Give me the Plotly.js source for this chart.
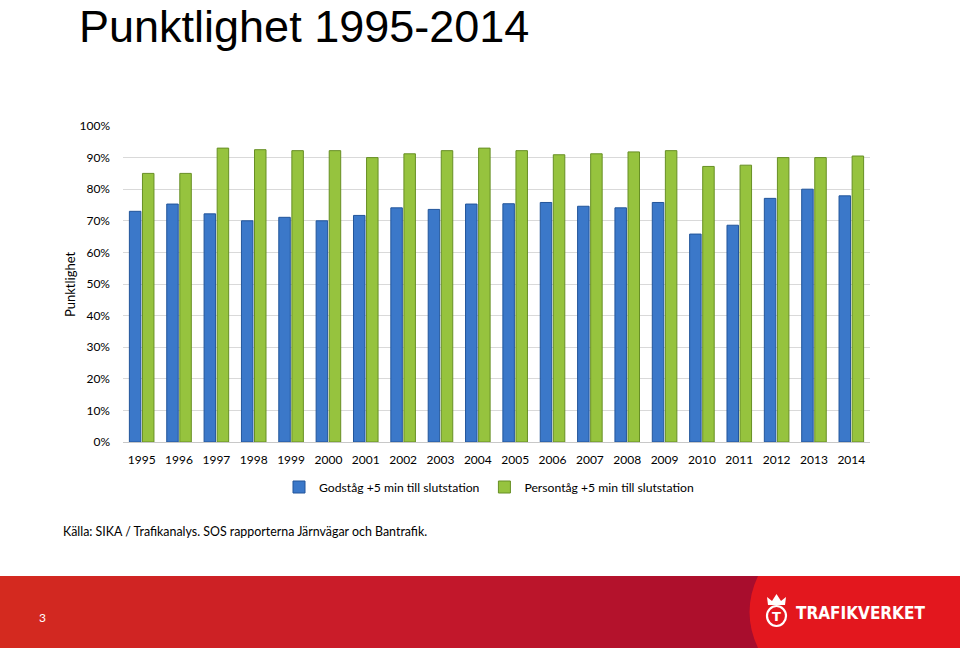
<!DOCTYPE html>
<html>
<head>
<meta charset="utf-8">
<script src="https://cdn.plot.ly/plotly-3.0.1.min.js"></script>
<style>
  html, body { margin: 0; padding: 0; background: #ffffff; }
  #chart { width: 960px; height: 648px; }
</style>
</head>
<body>
<div id="chart"></div>
<script>
// ---- Data ----
const years = ["1995","1996","1997","1998","1999","2000","2001","2002","2003","2004",
               "2005","2006","2007","2008","2009","2010","2011","2012","2013","2014"];
const godstag = [73.0, 75.3, 72.2, 70.0, 71.1, 70.0, 71.7, 74.1, 73.6, 75.3,
                 75.4, 75.8, 74.6, 74.1, 75.8, 65.8, 68.6, 77.1, 80.0, 77.9];
const persontag = [85.0, 85.0, 93.0, 92.5, 92.2, 92.2, 90.0, 91.2, 92.2, 93.0,
                   92.2, 90.9, 91.2, 91.8, 92.2, 87.2, 87.6, 90.0, 90.0, 90.5];
const seriesNames = ["Godståg +5 min till slutstation", "Persontåg +5 min till slutstation"];
const yTickVals = [0,10,20,30,40,50,60,70,80,90,100];
const yTickText = ["0%","10%","20%","30%","40%","50%","60%","70%","80%","90%","100%"];

const W = 960, H = 648;
const px = x => x / W;
const py = y => 1 - y / H;

const bodyFont = "Lato, 'Open Sans', 'DejaVu Sans', sans-serif";

const traces = [
  {
    type: "bar", name: seriesNames[0], x: years, y: godstag,
    marker: { color: "#3b78c9", line: { color: "#22559a", width: 1 } },
    hoverinfo: "x+y+name"
  },
  {
    type: "bar", name: seriesNames[1], x: years, y: persontag,
    marker: { color: "#96c33e", line: { color: "#678f24", width: 1 } },
    hoverinfo: "x+y+name"
  }
];

// ---- Footer decoration ----
const shapes = [];
function lerp(a, b, t) { return Math.round(a + (b - a) * t); }
function mix(c1, c2, t) {
  return "rgb(" + lerp(c1[0], c2[0], t) + "," + lerp(c1[1], c2[1], t) + "," + lerp(c1[2], c2[2], t) + ")";
}
const cA = [212, 42, 31], cB = [200, 26, 42], cC = [166, 12, 45];
const stripW = 10, footTop = 576, footRight = 770;
for (let x0 = 0; x0 < footRight; x0 += stripW) {
  const t = (x0 + stripW / 2) / footRight;
  const col = t < 0.5 ? mix(cA, cB, t / 0.5) : mix(cB, cC, (t - 0.5) / 0.5);
  shapes.push({ type: "rect", xref: "paper", yref: "paper",
    x0: px(x0), x1: px(Math.min(x0 + stripW + 1, footRight)), y0: 0, y1: py(footTop),
    fillcolor: col, line: { width: 0 }, layer: "below" });
}
// bright red right panel with curved left edge
shapes.push({ type: "path", xref: "paper", yref: "paper",
  path: "M " + px(758) + "," + py(footTop) + " Q " + px(741) + "," + py(612) + " " + px(758) + "," + py(648) +
        " L 1," + py(648) + " L 1," + py(footTop) + " Z",
  fillcolor: "#e3171e", line: { width: 0 }, layer: "below" });
// logo ring
shapes.push({ type: "circle", xref: "paper", yref: "paper",
  x0: px(767), x1: px(786), y0: py(626), y1: py(606),
  line: { color: "#ffffff", width: 2.2 }, fillcolor: "rgba(0,0,0,0)" });
// logo crown
shapes.push({ type: "path", xref: "paper", yref: "paper",
  path: "M " + px(768) + "," + py(605) + " L " + px(767) + "," + py(597) + " L " + px(772) + "," + py(601) +
        " L " + px(776.5) + "," + py(594) + " L " + px(781) + "," + py(601) + " L " + px(786) + "," + py(597) +
        " L " + px(785) + "," + py(605) + " Z",
  fillcolor: "#ffffff", line: { width: 0 } });

const annotations = [
  { text: "Punktlighet", textangle: -90, xref: "paper", yref: "paper",
    x: px(70), y: py(284), showarrow: false, xanchor: "center", yanchor: "middle",
    font: { family: bodyFont, size: 13, color: "#000000" } },
  { text: "Källa: SIKA / Trafikanalys. SOS rapporterna Järnvägar och Bantrafik.",
    xref: "paper", yref: "paper", x: px(61), y: py(531), showarrow: false,
    xanchor: "left", yanchor: "middle",
    font: { family: bodyFont, size: 12.4, color: "#000000" } },
  { text: "3", xref: "paper", yref: "paper", x: px(42), y: py(617), showarrow: false,
    xanchor: "center", yanchor: "middle",
    font: { family: bodyFont, size: 12, color: "#ffffff" } },
  { text: "<b>T</b>", xref: "paper", yref: "paper", x: px(776.5), y: py(616), showarrow: false,
    xanchor: "center", yanchor: "middle",
    font: { family: "'DejaVu Sans', sans-serif", size: 13, color: "#ffffff" } },
  { text: "<b>TRAFIKVERKET</b>", xref: "paper", yref: "paper", x: px(794), y: py(613), showarrow: false,
    xanchor: "left", yanchor: "middle",
    font: { family: "'DejaVu Sans Condensed', 'DejaVu Sans', sans-serif", size: 17, color: "#ffffff" } }
];

const layout = {
  width: W, height: H,
  margin: { l: 0, r: 0, t: 0, b: 0, pad: 0, autoexpand: false },
  paper_bgcolor: "#ffffff", plot_bgcolor: "#ffffff",
  title: {
    text: "Punktlighet 1995-2014",
    xref: "container", yref: "container", x: px(79), xanchor: "left",
    y: py(26), yanchor: "middle",
    font: { family: "'Liberation Sans', Arial, sans-serif", size: 45, color: "#000000" }
  },
  barmode: "group", bargap: 0.30, bargroupgap: 0.12,
  xaxis: {
    domain: [px(123), px(870)],
    type: "category",
    tickfont: { family: bodyFont, size: 12, color: "#000000" },
    ticks: "", showline: false, showgrid: false, zeroline: false,
    ticklabelstandoff: 9, fixedrange: true
  },
  yaxis: {
    domain: [py(442), py(126)],
    range: [0, 100],
    tickvals: yTickVals, ticktext: yTickText,
    tickfont: { family: bodyFont, size: 12, color: "#000000" },
    ticks: "", showline: false,
    showgrid: true, gridcolor: "#d9d9d9", gridwidth: 1,
    zeroline: true, zerolinecolor: "#c8c8c8", zerolinewidth: 1,
    ticklabelstandoff: 12, fixedrange: true
  },
  legend: {
    orientation: "h", xref: "paper", yref: "paper",
    x: px(489), xanchor: "center", y: py(487), yanchor: "middle",
    font: { family: bodyFont, size: 12.2, color: "#000000" },
    itemwidth: 30, tracegroupgap: 0, bgcolor: "rgba(0,0,0,0)"
  },
  showlegend: true,
  shapes: shapes,
  annotations: annotations
};

Plotly.newPlot("chart", traces, layout, { displayModeBar: false, staticPlot: true });
</script>
</body>
</html>
